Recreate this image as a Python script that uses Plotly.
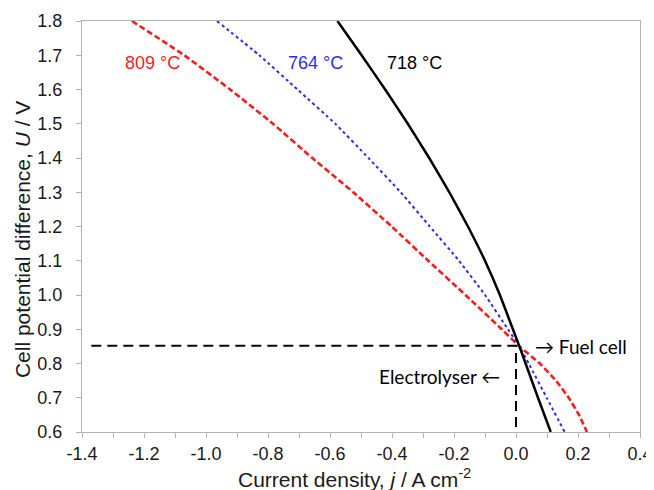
import plotly.graph_objects as go

# Cell voltage U (V) and current density j (A cm-2) for each series
U_718 = [1.80, 1.70, 1.60, 1.50, 1.40, 1.30, 1.20, 1.10, 1.00, 0.90, 0.85, 0.80, 0.70, 0.60]
j_718 = [-0.576, -0.498, -0.422, -0.349, -0.280, -0.215, -0.155, -0.100, -0.052, -0.010, 0.011, 0.031, 0.071, 0.112]

U_764 = [1.80, 1.70, 1.60, 1.50, 1.40, 1.30, 1.20, 1.10, 1.00, 0.90, 0.85, 0.80, 0.70, 0.60]
j_764 = [-0.965, -0.828, -0.705, -0.583, -0.476, -0.372, -0.278, -0.184, -0.100, -0.026, 0.011, 0.041, 0.099, 0.157]

U_809 = [1.80, 1.70, 1.60, 1.50, 1.40, 1.30, 1.20, 1.10, 1.00, 0.90, 0.85, 0.80, 0.75, 0.70, 0.65, 0.60]
j_809 = [-1.239, -1.070, -0.922, -0.784, -0.657, -0.525, -0.401, -0.283, -0.163, -0.046, 0.011, 0.077, 0.129, 0.170, 0.203, 0.229]

# OCV guide lines
guide_x = [-1.37, 0.0, 0.0]
guide_y = [0.852, 0.852, 0.60]

x_ticks = [-1.4, -1.2, -1.0, -0.8, -0.6, -0.4, -0.2, 0.0, 0.2, 0.4]
x_tick_labels = ["-1.4", "-1.2", "-1.0", "-0.8", "-0.6", "-0.4", "-0.2", "0.0", "0.2", "0.4"]
y_ticks = [0.6, 0.7, 0.8, 0.9, 1.0, 1.1, 1.2, 1.3, 1.4, 1.5, 1.6, 1.7, 1.8]
y_tick_labels = ["0.6", "0.7", "0.8", "0.9", "1.0", "1.1", "1.2", "1.3", "1.4", "1.5", "1.6", "1.7", "1.8"]

series_labels = ["809 °C", "764 °C", "718 °C"]
label_x = [-1.171, -0.647, -0.327]
label_y = [1.677, 1.677, 1.677]

AX = "#b3b3b3"
FONT = "Liberation Sans, Arial, sans-serif"
RED = "#ff1a1a"
BLUE = "#2b2bff"
TXT = "#1a1a1a"

fig = go.Figure()
fig.add_trace(go.Scatter(x=guide_x, y=guide_y, mode="lines",
                         line=dict(color="black", width=2, dash="10px,6px"),
                         showlegend=False, hoverinfo="skip"))
fig.add_trace(go.Scatter(x=j_809, y=U_809, mode="lines", name="809 °C",
                         line=dict(color=RED, width=2.6, dash="6px,3px", shape="spline", smoothing=0.4),
                         showlegend=False))
fig.add_trace(go.Scatter(x=j_764, y=U_764, mode="lines", name="764 °C",
                         line=dict(color=BLUE, width=2, dash="dot", shape="spline", smoothing=0.4),
                         showlegend=False))
fig.add_trace(go.Scatter(x=j_718, y=U_718, mode="lines", name="718 °C",
                         line=dict(color="black", width=2.5, shape="spline", smoothing=0.4),
                         showlegend=False))

label_colors = [RED, BLUE, "black"]
for t, xx, yy, c in zip(series_labels, label_x, label_y, label_colors):
    fig.add_annotation(x=xx, y=yy, text=t, showarrow=False,
                       font=dict(family=FONT, size=18, color=c))

fig.add_annotation(x=0.210, y=0.849, text="\u2192 Fuel cell", showarrow=False,
                   font=dict(family="Lato, sans-serif", size=19, color="black"))
fig.add_annotation(x=-0.247, y=0.761, text="Electrolyser \u2190", showarrow=False,
                   font=dict(family="Lato, sans-serif", size=19, color="black"))

# axis titles
fig.add_annotation(xref="paper", yref="paper", x=0.489, y=-0.112,
                   xanchor="center", yanchor="middle", showarrow=False,
                   text="Current density, <i>j</i> / A cm<sup>-2</sup>",
                   font=dict(family=FONT, size=21, color=TXT))
fig.add_annotation(xref="paper", yref="paper", x=-0.1075, y=0.467,
                   xanchor="center", yanchor="middle", showarrow=False, textangle=-90,
                   text="Cell potential difference, <i>U</i> / V",
                   font=dict(family=FONT, size=21, color=TXT))

# page body has an 8px margin; size the figure so it ends at the window edge
fig.update_layout(
    width=646, height=482,
    margin=dict(l=74, r=14, t=13, b=58),
    paper_bgcolor="white", plot_bgcolor="white",
    font=dict(family=FONT, size=18, color=TXT),
    xaxis=dict(range=[-1.4, 0.4], tickvals=x_ticks, ticktext=x_tick_labels,
               ticks="outside", ticklen=5, tickcolor=AX, tickwidth=1,
               minor=dict(dtick=0.1, tick0=0, ticks="outside", ticklen=5, tickcolor=AX, tickwidth=1),
               showline=True, linecolor=AX, linewidth=1.3, mirror=True,
               showgrid=False, zeroline=False, automargin=False),
    yaxis=dict(range=[0.6, 1.8], tickvals=y_ticks, ticktext=y_tick_labels,
               ticks="outside", ticklen=5, tickcolor=AX, tickwidth=1,
               showline=True, linecolor=AX, linewidth=1.3, mirror=True,
               showgrid=False, zeroline=False, automargin=False,
               ticklabelstandoff=10),
)

fig.write_html("out.html")
